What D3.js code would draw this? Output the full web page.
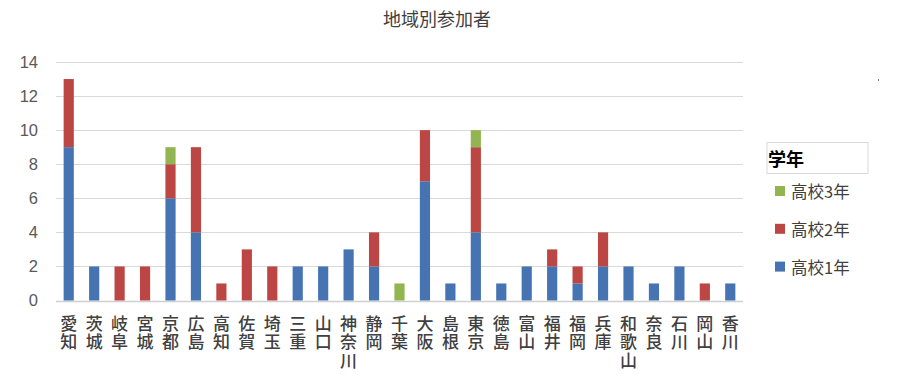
<!DOCTYPE html>
<html><head><meta charset="utf-8">
<script src="https://cdn.jsdelivr.net/npm/d3@7"></script>
<style>body{margin:0;background:#fff;} svg{display:block;font-family:"Noto Sans CJK JP","Noto Sans",sans-serif;}</style>
</head><body><svg id="c" width="917" height="384"></svg>
<script>
const categories=["愛知","茨城","岐阜","宮城","京都","広島","高知","佐賀","埼玉","三重","山口","神奈川","静岡","千葉","大阪","島根","東京","徳島","富山","福井","福岡","兵庫","和歌山","奈良","石川","岡山","香川"];
const grade1=[9,2,0,0,6,4,0,0,0,2,2,3,2,0,7,1,4,1,2,2,1,2,2,1,2,0,1];
const grade2=[4,0,2,2,2,5,1,3,2,0,0,0,2,0,3,0,5,0,0,1,1,2,0,0,0,1,0];
const grade3=[0,0,0,0,1,0,0,0,0,0,0,0,0,1,0,0,1,0,0,0,0,0,0,0,0,0,0];
const seriesNames=["高校1年","高校2年","高校3年"];
const colors=["#4674B3","#BC4644","#92B552"];
const yTicks=[0,2,4,6,8,10,12,14];
const title="地域別参加者";
const legendTitle="学年";

const svg=d3.select("#c");
const x=d3.scaleBand().domain(categories).range([56,743]).paddingInner(0.6).paddingOuter(0.3);
const y=d3.scaleLinear().domain([0,14]).range([300.5,62]);

const rows=categories.map((c,i)=>({cat:c,"高校1年":grade1[i],"高校2年":grade2[i],"高校3年":grade3[i]}));
const stacked=d3.stack().keys(seriesNames)(rows);

// gridlines
svg.append("g").selectAll("line").data(yTicks).join("line")
 .attr("x1",56).attr("x2",743).attr("y1",d=>Math.round(y(d))+0.5).attr("y2",d=>Math.round(y(d))+0.5)
 .attr("stroke",d=>d===0?"#d0d0d0":"#d9d9d9").attr("stroke-width",d=>d===0?1.5:1.2);

// y labels
svg.append("g").selectAll("text").data(yTicks).join("text")
 .attr("x",38).attr("y",d=>y(d)).attr("dy","0.36em").attr("text-anchor","end")
 .attr("font-family","Helvetica,Arial,'Liberation Sans',sans-serif").attr("font-size",16.5).attr("fill","#595959").text(d=>d);

// bars
svg.append("g").selectAll("g").data(stacked).join("g").attr("fill",(d,i)=>colors[i])
 .selectAll("rect").data(d=>d.filter(p=>p[1]>p[0])).join("rect")
 .attr("x",d=>x(d.data.cat)).attr("width",x.bandwidth())
 .attr("y",d=>y(d[1])).attr("height",d=>y(d[0])-y(d[1]));

// x labels vertical (upright)
svg.append("g").selectAll("text").data(categories).join("text")
 .attr("x",d=>x(d)+x.bandwidth()/2).attr("y",315)
 .style("writing-mode","vertical-rl").style("text-orientation","upright")
 .attr("letter-spacing",1.3)
 .attr("font-size",17).attr("font-weight",500).attr("fill","#404040").text(d=>d);

// title
svg.append("text").attr("x",437).attr("y",18).attr("dominant-baseline","central").attr("text-anchor","middle")
 .attr("font-size",18).attr("fill","#404040").text(title);

// legend
svg.append("rect").attr("x",767).attr("y",142.5).attr("width",101).attr("height",31).attr("fill","#fff").attr("stroke","#d9d9d9").attr("stroke-width",1);
svg.append("text").attr("x",768).attr("y",158).attr("dominant-baseline","central").attr("font-size",18).attr("font-weight",700).attr("fill","#000").text(legendTitle);
const legItems=[2,1,0];
const lg=svg.append("g").selectAll("g").data(legItems).join("g").attr("transform",(d,i)=>`translate(775,${191+i*37.8})`);
lg.append("rect").attr("x",0).attr("y",-5).attr("width",10).attr("height",10).attr("fill",d=>colors[d]);
lg.append("text").attr("x",16).attr("y",0).attr("dominant-baseline","central").attr("font-size",16.5).attr("fill","#404040").text(d=>seriesNames[d]);

svg.append("rect").attr("x",878).attr("y",79).attr("width",1).attr("height",2).attr("fill","#888");
</script></body></html>
